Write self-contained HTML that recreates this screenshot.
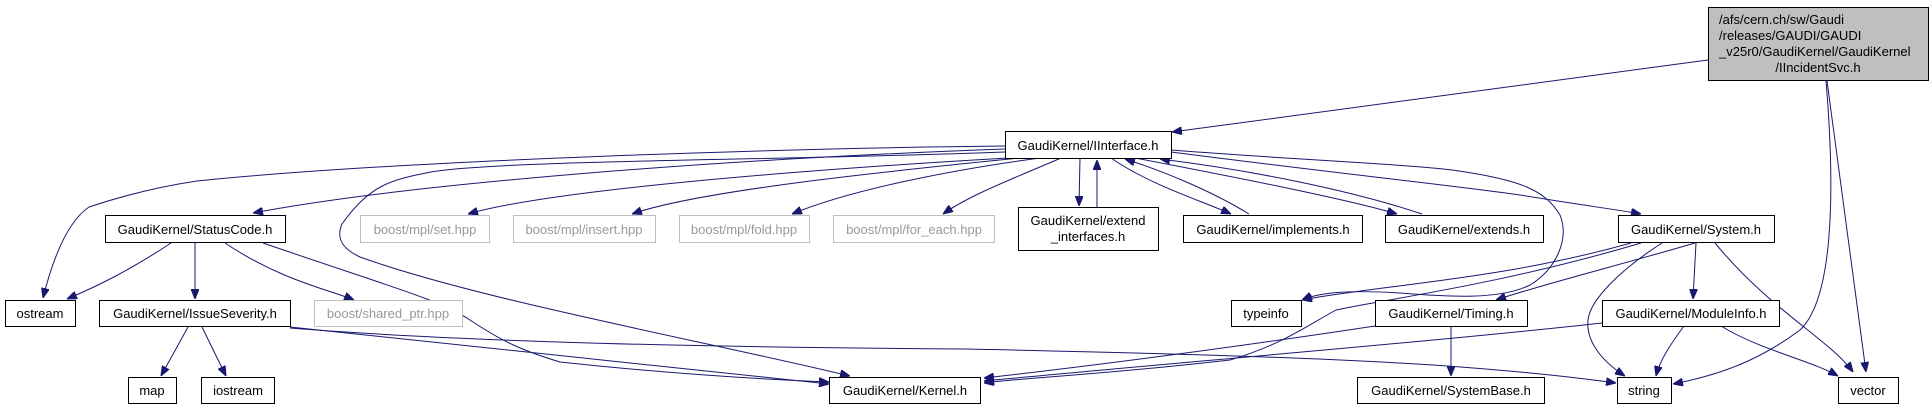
<!DOCTYPE html>
<html><head><meta charset="utf-8"><style>
html,body{margin:0;padding:0;background:#fff;}
svg{display:block;}
text{font-family:"Liberation Sans",Arial,sans-serif;font-size:13px;fill:#000;}
.g text{fill:#999;}
</style></head><body>
<svg width="1932" height="413" viewBox="0 0 1932 413" xmlns="http://www.w3.org/2000/svg">
<defs>
<marker id="a" viewBox="0 0 10 8" refX="10" refY="4" markerWidth="10" markerHeight="8" markerUnits="userSpaceOnUse" orient="auto">
<path d="M0,0 L10,4 L0,8 z" fill="#191970" stroke="#191970"/>
</marker>
</defs>
<g fill="none" stroke="#191970" stroke-width="1" marker-end="url(#a)">
<path d="M1708,60 L1172,132"/>
<path d="M1826,81 C1836,200 1832,300 1800,330 C1760,360 1720,375 1673,384"/>
<path d="M1827,81 L1866,372"/>
<path d="M1005,146 C800,148 400,160 197,181 C150,188 110,200 89,207 C70,220 55,250 43,298"/>
<path d="M1005,149 C700,160 400,185 253,213"/>
<path d="M1005,152 C800,160 500,160 431,172 C390,180 370,185 342,224 C335,240 345,250 360,257 C480,300 700,340 850,376"/>
<path d="M1008,158 C800,170 550,190 468,214"/>
<path d="M1020,158 C900,170 700,190 632,214"/>
<path d="M1040,158 C950,170 850,190 792,214"/>
<path d="M1061,158 C1010,180 970,195 943,214"/>
<path d="M1080,158 L1079,206"/>
<path d="M1097,207 L1097,160"/>
<path d="M1111,158 C1150,185 1200,200 1231,214"/>
<path d="M1249,214 C1210,190 1160,170 1125,159"/>
<path d="M1135,158 C1250,180 1350,200 1397,214"/>
<path d="M1422,214 C1350,190 1250,170 1160,159"/>
<path d="M1171,152 C1350,175 1450,185 1520,195 C1580,205 1620,210 1641,214"/>
<path d="M1171,150 C1300,160 1420,165 1459,171 C1520,180 1545,190 1560,215 C1570,240 1555,270 1530,285 C1500,300 1450,297 1400,293 C1350,290 1320,292 1302,300"/>
<path d="M1631,243 C1500,280 1380,285 1302,300"/>
<path d="M1695,243 C1620,265 1540,285 1496,300"/>
<path d="M1641,243 C1500,285 1380,300 1336,310 C1300,330 1280,345 1230,360 C1100,375 1020,378 984,383"/>
<path d="M1375,326 C1250,345 1100,365 984,378"/>
<path d="M1602,323 C1450,340 1150,365 984,381"/>
<path d="M1662,243 C1620,270 1590,300 1588,320 C1586,340 1600,360 1625,376"/>
<path d="M1696,243 L1693,299"/>
<path d="M1715,243 C1770,310 1830,340 1853,372"/>
<path d="M1451,326 L1451,376"/>
<path d="M1684,326 C1670,345 1660,360 1656,376"/>
<path d="M1721,326 C1760,350 1810,360 1838,376"/>
<path d="M171,243 C130,270 100,285 67,299"/>
<path d="M195,243 L195,299"/>
<path d="M225,243 C280,280 330,290 354,300"/>
<path d="M188,327 L161,376"/>
<path d="M202,327 L226,376"/>
<path d="M263,243 C400,290 440,300 470,320 C500,340 520,350 560,362 C680,375 780,380 829,382"/>
<path d="M290,327 C500,350 700,370 829,384"/>
<path d="M290,328 C500,345 800,348 966,349 C1100,352 1300,356 1447,366 C1530,372 1580,378 1616,383"/>
</g>
<g fill="#fff" stroke="#000" stroke-width="1">
<rect x="1708.5" y="7.5" width="220" height="73" fill="#bfbfbf"/>
<rect x="1005.5" y="131.5" width="166" height="27"/>
<rect x="105.5" y="215.5" width="180" height="27"/>
<rect x="1018.5" y="207.5" width="140" height="43"/>
<rect x="1183.5" y="215.5" width="179" height="27"/>
<rect x="1385.5" y="215.5" width="158" height="27"/>
<rect x="1618.5" y="215.5" width="156" height="27"/>
<rect x="5.5" y="300.5" width="70" height="26"/>
<rect x="99.5" y="300.5" width="191" height="26"/>
<rect x="1231.5" y="300.5" width="70" height="26"/>
<rect x="1375.5" y="300.5" width="152" height="26"/>
<rect x="1602.5" y="300.5" width="177" height="26"/>
<rect x="128.5" y="377.5" width="48" height="26"/>
<rect x="201.5" y="377.5" width="73" height="26"/>
<rect x="829.5" y="377.5" width="151" height="26"/>
<rect x="1357.5" y="377.5" width="187" height="26"/>
<rect x="1617.5" y="377.5" width="54" height="26"/>
<rect x="1838.5" y="377.5" width="60" height="26"/>
</g>
<g fill="#fff" stroke="#bfbfbf" stroke-width="1">
<rect x="360.5" y="215.5" width="129" height="27"/>
<rect x="513.5" y="215.5" width="142" height="27"/>
<rect x="679.5" y="215.5" width="130" height="27"/>
<rect x="833.5" y="215.5" width="161" height="27"/>
<rect x="314.5" y="300.5" width="148" height="26"/>
</g>
<text x="1719" y="24">/afs/cern.ch/sw/Gaudi</text>
<text x="1719" y="40">/releases/GAUDI/GAUDI</text>
<text x="1719" y="56">_v25r0/GaudiKernel/GaudiKernel</text>
<text x="1818" y="72" text-anchor="middle">/IIncidentSvc.h</text>
<g text-anchor="middle">
<text x="1088" y="150">GaudiKernel/IInterface.h</text>
<text x="195" y="234">GaudiKernel/StatusCode.h</text>
<text x="1088" y="225">GaudiKernel/extend</text>
<text x="1088" y="241">_interfaces.h</text>
<text x="1273" y="234">GaudiKernel/implements.h</text>
<text x="1464" y="234">GaudiKernel/extends.h</text>
<text x="1696" y="234">GaudiKernel/System.h</text>
<text x="40" y="318">ostream</text>
<text x="195" y="318">GaudiKernel/IssueSeverity.h</text>
<text x="1266" y="318">typeinfo</text>
<text x="1451" y="318">GaudiKernel/Timing.h</text>
<text x="1691" y="318">GaudiKernel/ModuleInfo.h</text>
<text x="152" y="395">map</text>
<text x="238" y="395">iostream</text>
<text x="905" y="395">GaudiKernel/Kernel.h</text>
<text x="1451" y="395">GaudiKernel/SystemBase.h</text>
<text x="1644" y="395">string</text>
<text x="1868" y="395">vector</text>
</g>
<g class="g" text-anchor="middle">
<text x="425" y="234">boost/mpl/set.hpp</text>
<text x="584" y="234">boost/mpl/insert.hpp</text>
<text x="744" y="234">boost/mpl/fold.hpp</text>
<text x="914" y="234">boost/mpl/for_each.hpp</text>
<text x="388" y="318">boost/shared_ptr.hpp</text>
</g>
</svg>
</body></html>
